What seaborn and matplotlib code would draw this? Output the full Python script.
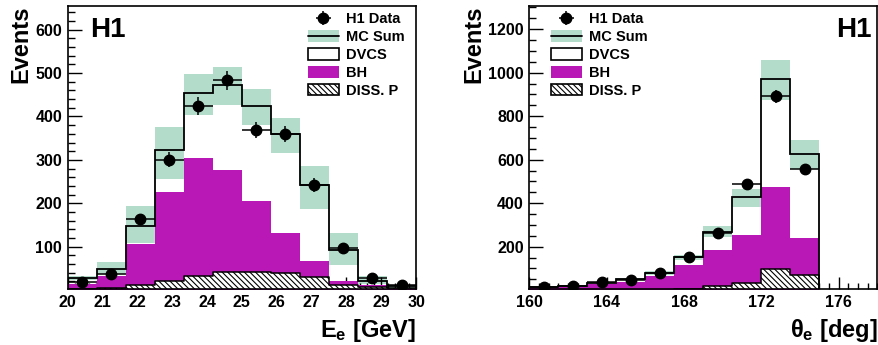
import numpy as np
import pandas as pd
import matplotlib
matplotlib.use("Agg")
import matplotlib.pyplot as plt
import seaborn as sns
from matplotlib.patches import Patch
from matplotlib.lines import Line2D
from matplotlib.legend_handler import HandlerTuple
from matplotlib.ticker import MultipleLocator

# ---- electron energy distribution (12 bins, 20-30 GeV) ----
e_edges = np.linspace(20.0, 30.0, 13)
e_data = [18, 37, 163, 300, 424, 483, 369, 360, 242, 98, 28, 11]
e_mc = [28, 48, 147, 322, 455, 472, 425, 360, 243, 92, 21, 10]
e_band_lo = [23, 38, 108, 257, 403, 426, 380, 315, 187, 59, 15, 6]
e_band_hi = [33, 64, 193, 376, 497, 514, 464, 397, 286, 131, 32, 13]
e_bh = [15, 32, 106, 227, 304, 277, 205, 132, 68, 22, 11, 4]
e_diss = [3, 4, 12, 20, 32, 41, 41, 40, 30, 13, 7, 4]

# ---- electron polar angle distribution (10 bins, 160-175 deg) ----
t_edges = np.linspace(160.0, 175.0, 11)
t_data = [16, 21, 36, 45, 81, 151, 263, 487, 891, 556]
t_mc = [13, 19, 35, 51, 81, 152, 266, 427, 969, 626]
t_band_lo = [11, 16, 31, 46, 72, 139, 243, 384, 874, 556]
t_band_hi = [15, 22, 39, 56, 90, 163, 295, 465, 1058, 689]
t_bh = [12, 15, 27, 39, 65, 114, 183, 254, 474, 240]
t_diss = [1, 1, 2, 2, 3, 4, 20, 35, 99, 69]

legend_labels = ["H1 Data", "MC Sum", "DVCS", "BH", "DISS. P"]

BAND = "#b3dcca"
MAGENTA = "#ba17b7"
HATCH = "\\" * 6

sns.set_theme(style="ticks")
plt.rcParams["font.family"] = ["Liberation Sans", "DejaVu Sans"]
plt.rcParams["font.weight"] = "bold"
plt.rcParams["text.color"] = "black"
plt.rcParams["axes.labelcolor"] = "black"
plt.rcParams["xtick.color"] = "black"
plt.rcParams["ytick.color"] = "black"
plt.rcParams["mathtext.fontset"] = "custom"
plt.rcParams["mathtext.rm"] = "Liberation Sans:bold"
plt.rcParams["mathtext.it"] = "Liberation Sans:bold"
plt.rcParams["mathtext.bf"] = "Liberation Sans:bold"
plt.rcParams["hatch.color"] = "black"
plt.rcParams["hatch.linewidth"] = 0.8

fig = plt.figure(figsize=(8.79, 3.45), dpi=100)
ax_e = fig.add_axes([0.077, 0.1614, 0.3963, 0.8221])
ax_t = fig.add_axes([0.6022, 0.1614, 0.3959, 0.8221])


def draw_panel(ax, edges, data, mc, lo, hi, bh, diss):
    centers = 0.5 * (edges[:-1] + edges[1:])
    half = 0.5 * (edges[1] - edges[0])
    bins = [float(b) for b in edges]
    df = pd.DataFrame({"x": centers, "mc": mc, "bh": bh, "diss": diss})

    # DVCS on top of the stack: white fill up to the MC total
    sns.histplot(data=df, x="x", weights="mc", bins=bins, element="step",
                 fill=True, color="white", alpha=1, linewidth=0, ax=ax,
                 zorder=1)
    # MC uncertainty band
    ax.stairs(hi, edges, baseline=lo, fill=True, color=BAND, lw=0, zorder=2)
    # BH contribution
    sns.histplot(data=df, x="x", weights="bh", bins=bins, element="step",
                 fill=True, color=MAGENTA, alpha=1, linewidth=0, ax=ax,
                 zorder=3)
    # proton-dissociative background
    sns.histplot(data=df, x="x", weights="diss", bins=bins, element="step",
                 fill=True, facecolor="white", edgecolor="black", alpha=1,
                 hatch=HATCH, linewidth=1.1, ax=ax, zorder=4)
    # MC sum outline
    ax.stairs(mc, edges, baseline=0, color="black", lw=1.3, zorder=5)
    # data points with statistical errors
    ax.errorbar(centers, data, yerr=np.sqrt(data), xerr=half, fmt="o",
                color="black", ms=7.5, elinewidth=1.1, capsize=0, zorder=6)
    ax.set_xlabel("")
    ax.set_ylabel("")


draw_panel(ax_e, e_edges, e_data, e_mc, e_band_lo, e_band_hi, e_bh, e_diss)
draw_panel(ax_t, t_edges, t_data, t_mc, t_band_lo, t_band_hi, t_bh, t_diss)

ax_e.set_xlim(20, 30)
ax_e.set_ylim(2, 655)
ax_e.xaxis.set_major_locator(MultipleLocator(1))
ax_e.xaxis.set_minor_locator(MultipleLocator(0.2))
ax_e.yaxis.set_minor_locator(MultipleLocator(20))
ax_e.set_yticks([100, 200, 300, 400, 500, 600])

ax_t.set_xlim(160, 178)
ax_t.set_ylim(4, 1308)
ax_t.xaxis.set_major_locator(MultipleLocator(4))
ax_t.xaxis.set_minor_locator(MultipleLocator(0.5))
ax_t.yaxis.set_minor_locator(MultipleLocator(50))
ax_t.set_yticks([200, 400, 600, 800, 1000, 1200])

for ax in (ax_e, ax_t):
    for s in ax.spines.values():
        s.set_linewidth(1.2)
        s.set_color("black")
        s.set_zorder(10)
    ax.tick_params(which="major", direction="in", length=9, width=1.0,
                   labelsize=11.5, pad=4, colors="black")
    ax.tick_params(which="minor", direction="in", length=4.5, width=1.0)
    ax.tick_params(axis="y", which="major", length=10)
    ax.tick_params(axis="y", which="minor", length=5)
    for lab in ax.get_xticklabels() + ax.get_yticklabels():
        lab.set_fontweight("bold")
    ax.set_axisbelow(False)

ax_e.set_ylabel("Events", fontsize=17, fontweight="bold", loc="top",
                labelpad=2)
ax_t.set_ylabel("Events", fontsize=17, fontweight="bold", loc="top",
                labelpad=2)
ax_e.set_xlabel(r"$\mathrm{E_e}$ [GeV]", fontsize=17, fontweight="bold",
                loc="right", labelpad=5)
ax_t.set_xlabel(r"$\mathrm{\theta_e}$ [deg]", fontsize=17,
                fontweight="bold", loc="right", labelpad=5)

ax_e.text(0.064, 0.96, "H1", transform=ax_e.transAxes, fontsize=20,
          fontweight="bold", va="top", ha="left")
ax_t.text(0.983, 0.96, "H1", transform=ax_t.transAxes, fontsize=20,
          fontweight="bold", va="top", ha="right")


def legend_handles():
    h_data = ax_e.errorbar([], [], yerr=[], xerr=[], fmt="o", color="black",
                           ms=7.5, elinewidth=1.1)
    h_mc = (Patch(facecolor=BAND, edgecolor="none"),
            Line2D([], [], color="black", lw=1.3))
    h_dvcs = Patch(facecolor="white", edgecolor="black", lw=1.2)
    h_bh = Patch(facecolor=MAGENTA, edgecolor="none")
    h_diss = Patch(facecolor="white", edgecolor="black", hatch=HATCH, lw=1.2)
    return [h_data, h_mc, h_dvcs, h_bh, h_diss]


for ax, xa in ((ax_e, 0.69), (ax_t, 0.062)):
    ax.legend(legend_handles(), legend_labels, loc="upper left",
              bbox_to_anchor=(xa, 0.976), frameon=False, borderpad=0,
              borderaxespad=0, handlelength=2.1, handleheight=0.85,
              handletextpad=0.5, labelspacing=0.26,
              prop={"size": 10.5, "weight": "bold"},
              handler_map={tuple: HandlerTuple(ndivide=1, pad=0)})

fig.savefig("out.png", dpi=100)
